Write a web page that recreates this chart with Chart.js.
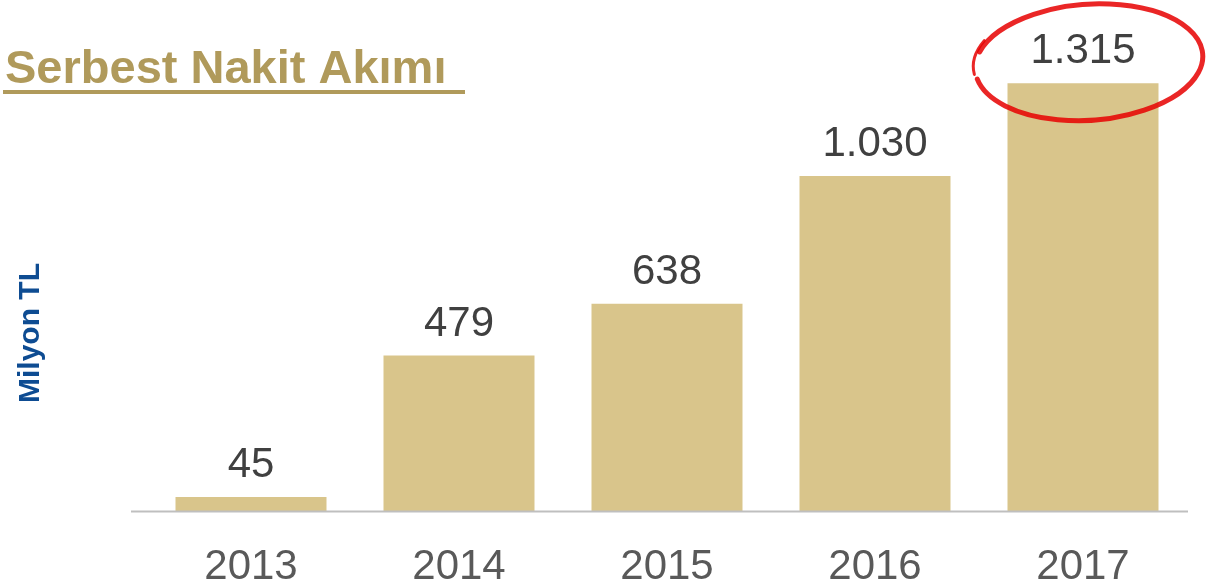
<!DOCTYPE html>
<html>
<head>
<meta charset="utf-8">
<script src="https://cdn.jsdelivr.net/npm/chart.js@4"></script>
<style>
  html, body { margin: 0; padding: 0; background: #fff; }
  #wrap { width: 1207px; height: 587px; }
</style>
</head>
<body>
<div id="wrap"><canvas id="fcfChart" width="1207" height="587"></canvas></div>
<script>
const years = ['2013', '2014', '2015', '2016', '2017'];
const cashFlow = [45, 479, 638, 1030, 1315];
const valueLabels = ['45', '479', '638', '1.030', '1.315'];

const FONT = '"Liberation Sans", Arial, sans-serif';

// başlık, eksen yazısı, değer etiketleri ve kırmızı halka
const decorPlugin = {
	id: 'decor',
	afterDatasetsDraw(chart) {
		const ctx = chart.ctx;
		const area = chart.chartArea;
		const bars = chart.getDatasetMeta(0).data;

		ctx.save();

		// taban çizgisi
		ctx.strokeStyle = '#BFBFBF';
		ctx.lineWidth = 2;
		ctx.beginPath();
		ctx.moveTo(131, area.bottom);
		ctx.lineTo(1188, area.bottom);
		ctx.stroke();

		// değer etiketleri
		ctx.fillStyle = '#404040';
		ctx.font = '42px ' + FONT;
		ctx.textAlign = 'center';
		ctx.textBaseline = 'alphabetic';
		bars.forEach((bar, i) => {
			ctx.fillText(valueLabels[i], bar.x, bar.y - 20);
		});

		// başlık
		ctx.fillStyle = '#B09A5B';
		ctx.font = 'bold 47px ' + FONT;
		ctx.textAlign = 'left';
		ctx.fillText('Serbest Nakit Akımı', 5, 83);
		ctx.fillRect(3, 90, 462, 4);

		// y ekseni yazısı
		ctx.save();
		ctx.translate(39, 333);
		ctx.rotate(-Math.PI / 2);
		ctx.fillStyle = '#0E4C92';
		ctx.font = 'bold 30px ' + FONT;
		ctx.textAlign = 'center';
		ctx.fillText('Milyon TL', 0, 0);
		ctx.restore();

		// 2017 etrafındaki kırmızı halka
		const last = bars[bars.length - 1];
		const cx = last.x + 6;
		const cy = last.y - 21;
		ctx.strokeStyle = 'rgba(230, 0, 0, 0.85)';
		ctx.lineCap = 'round';
		ctx.lineWidth = 5;
		ctx.beginPath();
		ctx.ellipse(cx, cy, 114, 58, -0.07, Math.PI * 1.1, Math.PI * 2.95);
		ctx.stroke();
		ctx.lineWidth = 3;
		ctx.beginPath();
		ctx.ellipse(cx + 4, cy - 3, 120, 60, -0.08, Math.PI * 0.97, Math.PI * 1.15);
		ctx.stroke();

		ctx.restore();
	},
};

const ctx = document.getElementById('fcfChart').getContext('2d');
const myChart = new Chart(ctx, {
	type: 'bar',
	data: {
		labels: years,
		datasets: [
			{
				data: cashFlow,
				backgroundColor: '#D9C58B',
				borderWidth: 0,
				categoryPercentage: 1,
				barPercentage: 0.726,
			},
		],
	},
	options: {
		responsive: false,
		animation: false,
		layout: {
			padding: { left: 147, right: 20, top: 23, bottom: -37 },
		},
		plugins: {
			legend: { display: false },
			tooltip: { enabled: false },
		},
		scales: {
			x: {
				grid: { display: false, drawTicks: false },
				border: { display: false },
				ticks: {
					color: '#595959',
					padding: 31,
					font: { size: 42, family: FONT },
				},
			},
			y: {
				display: false,
				min: 0,
				max: 1500,
			},
		},
	},
	plugins: [decorPlugin],
});
</script>
</body>
</html>
